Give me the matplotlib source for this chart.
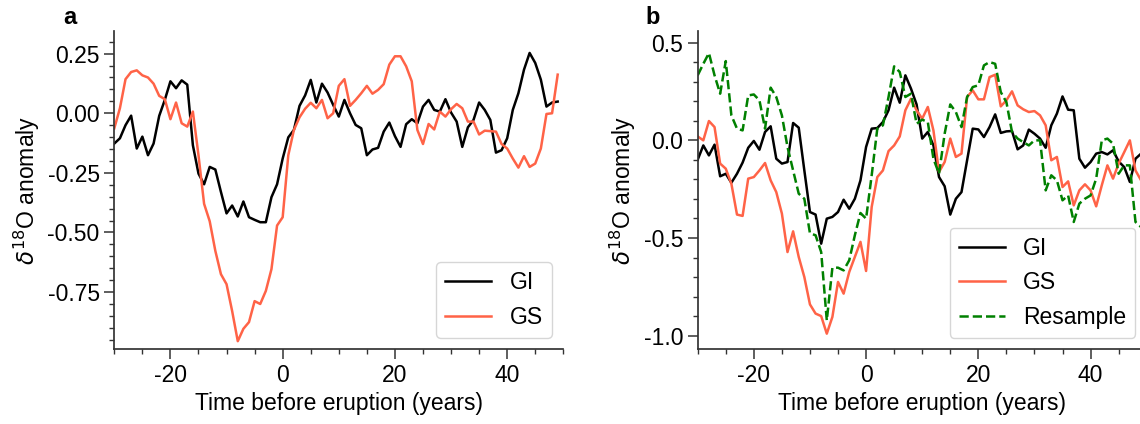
import matplotlib
matplotlib.use("Agg")
import matplotlib.pyplot as plt
import numpy as np
from matplotlib.ticker import MultipleLocator

plt.rcParams['font.family'] = ['Liberation Sans', 'DejaVu Sans']
plt.rcParams['font.size'] = 16.5
plt.rcParams['axes.unicode_minus'] = False

# years relative to eruption (annual)
years = np.arange(-30, 50)

# panel a
gi_a = [-0.127, -0.105, -0.05, -0.01, -0.148, -0.098, -0.176, -0.127, -0.011, 0.056,
        0.134, 0.105, 0.138, 0.12, -0.134, -0.253, -0.298, -0.225, -0.236, -0.33,
        -0.42, -0.387, -0.433, -0.37, -0.436, -0.447, -0.457, -0.457, -0.352, -0.298,
        -0.19, -0.101, -0.07, 0.031, 0.075, 0.14, 0.045, 0.124, 0.087, 0.035,
        -0.014, 0.056, 0.0, -0.049, -0.063, -0.176, -0.152, -0.145, -0.077, -0.039,
        -0.096, -0.141, -0.046, -0.025, -0.042, 0.028, 0.056, 0.014, 0.007, 0.059,
        0.003, -0.035, -0.141, -0.059, -0.028, 0.045, 0.014, -0.028, -0.165, -0.155,
        -0.105, 0.014, 0.084, 0.183, 0.253, 0.211, 0.141, 0.028, 0.045, 0.049]
gs_a = [-0.063, 0.021, 0.143, 0.173, 0.18, 0.159, 0.15, 0.124, 0.073, 0.059,
        -0.025, 0.045, -0.042, -0.056, 0.007, -0.176, -0.38, -0.453, -0.577, -0.675,
        -0.717, -0.83, -0.956, -0.904, -0.876, -0.788, -0.8, -0.745, -0.654, -0.471,
        -0.436, -0.176, -0.07, -0.017, 0.019, 0.044, 0.021, 0.056, -0.021, 0.0,
        0.115, 0.143, 0.031, 0.056, 0.084, 0.115, 0.082, 0.098, 0.122, 0.204,
        0.239, 0.239, 0.197, 0.134, -0.07, -0.129, -0.045, -0.068, 0.007, -0.014,
        0.017, 0.039, 0.021, -0.035, -0.035, -0.089, -0.073, -0.075, -0.077, -0.129,
        -0.148, -0.19, -0.228, -0.18, -0.225, -0.211, -0.148, -0.003, 0.0, 0.162]

# panel b
gi_b = [-0.099, -0.026, -0.077, -0.022, -0.184, -0.171, -0.217, -0.171, -0.114, -0.038,
        -0.003, -0.048, 0.043, 0.072, -0.094, -0.119, -0.111, 0.089, 0.065, -0.154,
        -0.367, -0.38, -0.529, -0.401, -0.392, -0.367, -0.304, -0.35, -0.299, -0.205,
        -0.034, 0.06, 0.063, 0.094, 0.154, 0.27, 0.193, 0.333, 0.265, 0.184,
        0.009, 0.043, -0.026, -0.188, -0.235, -0.38, -0.299, -0.265, -0.102, 0.06,
        0.056, 0.017, 0.068, 0.133, 0.038, 0.046, 0.048, -0.046, -0.026, 0.055,
        0.034, 0.009, -0.038, 0.077, 0.137, 0.225, 0.157, 0.154, -0.094, -0.14,
        -0.111, -0.068, -0.06, -0.072, -0.051, -0.108, -0.137, -0.213, -0.094, -0.068]
gs_b = [0.02, 0.0, 0.099, 0.068, -0.119, -0.145, -0.222, -0.38, -0.387, -0.196,
        -0.188, -0.154, -0.116, -0.205, -0.265, -0.375, -0.572, -0.466, -0.597, -0.7,
        -0.84, -0.887, -0.9, -0.99, -0.904, -0.725, -0.785, -0.674, -0.597, -0.52,
        -0.669, -0.341, -0.188, -0.154, -0.055, -0.026, 0.02, 0.154, 0.213, 0.154,
        0.111, 0.171, 0.051, -0.162, -0.111, 0.009, -0.085, -0.068, 0.222, 0.256,
        0.21, 0.21, 0.324, 0.336, 0.174, 0.205, 0.251, 0.179, 0.159, 0.145,
        0.15, 0.128, 0.077, -0.102, -0.085, -0.239, -0.21, -0.333, -0.256, -0.225,
        -0.256, -0.338, -0.23, -0.128, -0.196, -0.119, -0.06, 0.0, -0.154, -0.205]
resample_b = [0.333, 0.392, 0.447, 0.333, 0.239, 0.406, 0.128, 0.06, 0.051, 0.23,
              0.235, 0.205, 0.06, 0.27, 0.222, 0.128, -0.034, -0.154, -0.273, -0.299,
              -0.476, -0.486, -0.572, -0.922, -0.652, -0.652, -0.666, -0.614, -0.486, -0.372,
              -0.401, -0.179, 0.06, 0.077, 0.222, 0.379, 0.35, 0.222, 0.239, 0.085,
              0.106, 0.094, -0.094, -0.171, 0.034, 0.184, 0.145, 0.068, 0.222, 0.273,
              0.282, 0.384, 0.401, 0.392, 0.247, 0.196, 0.043, 0.009, -0.009, -0.026,
              0.0, 0.0, -0.256, -0.179, -0.205, -0.307, -0.282, -0.418, -0.324, -0.299,
              -0.282, -0.196, 0.0, 0.009, -0.017, -0.171, -0.128, -0.128, -0.418, -0.444]

W, H = 1140, 424
fig = plt.figure(figsize=(W / 100, H / 100), dpi=100)
ax_a = fig.add_axes([114.3 / W, 1 - 349.3 / H, 449 / W, 318.3 / H])
ax_b = fig.add_axes([697.7 / W, 1 - 349.3 / H, 449 / W, 318.3 / H])

ax_a.plot(years, gi_a, color='black', lw=1.8, label='GI')
ax_a.plot(years, gs_a, color='tomato', lw=1.8, label='GS')
ax_a.set_ylim(-0.99, 0.345)
ax_a.yaxis.set_major_locator(MultipleLocator(0.25))
ax_a.yaxis.set_minor_locator(MultipleLocator(0.05))

ax_b.plot(years, gi_b, color='black', lw=1.8, label='GI')
ax_b.plot(years, gs_b, color='tomato', lw=1.8, label='GS')
ax_b.plot(years, resample_b, color='green', lw=1.8, ls='--', label='Resample')
ax_b.set_ylim(-1.07, 0.56)
ax_b.yaxis.set_major_locator(MultipleLocator(0.5))
ax_b.yaxis.set_minor_locator(MultipleLocator(0.1))

for ax in (ax_a, ax_b):
    ax.set_xlim(-30, 50)
    ax.xaxis.set_major_locator(MultipleLocator(20))
    ax.xaxis.set_minor_locator(MultipleLocator(5))
    ax.spines[['top', 'right']].set_visible(False)
    for s in ('left', 'bottom'):
        ax.spines[s].set_linewidth(1.25)
        ax.spines[s].set_color('0.2')
    ax.tick_params(which='major', length=7, width=1.1, color='0.2')
    ax.tick_params(which='minor', length=3.5, width=1.0, color='0.2')
    ax.set_xlabel('Time before eruption (years)')
    ax.set_ylabel(r'$\delta^{18}$O anomaly')
    ax.legend(loc='lower right')

fig.text(70 / W, 1 - 17 / H, 'a', ha='center', va='center', fontsize=17, weight='bold')
fig.text(653 / W, 1 - 17 / H, 'b', ha='center', va='center', fontsize=17, weight='bold')

fig.savefig('out.png', dpi=100)
